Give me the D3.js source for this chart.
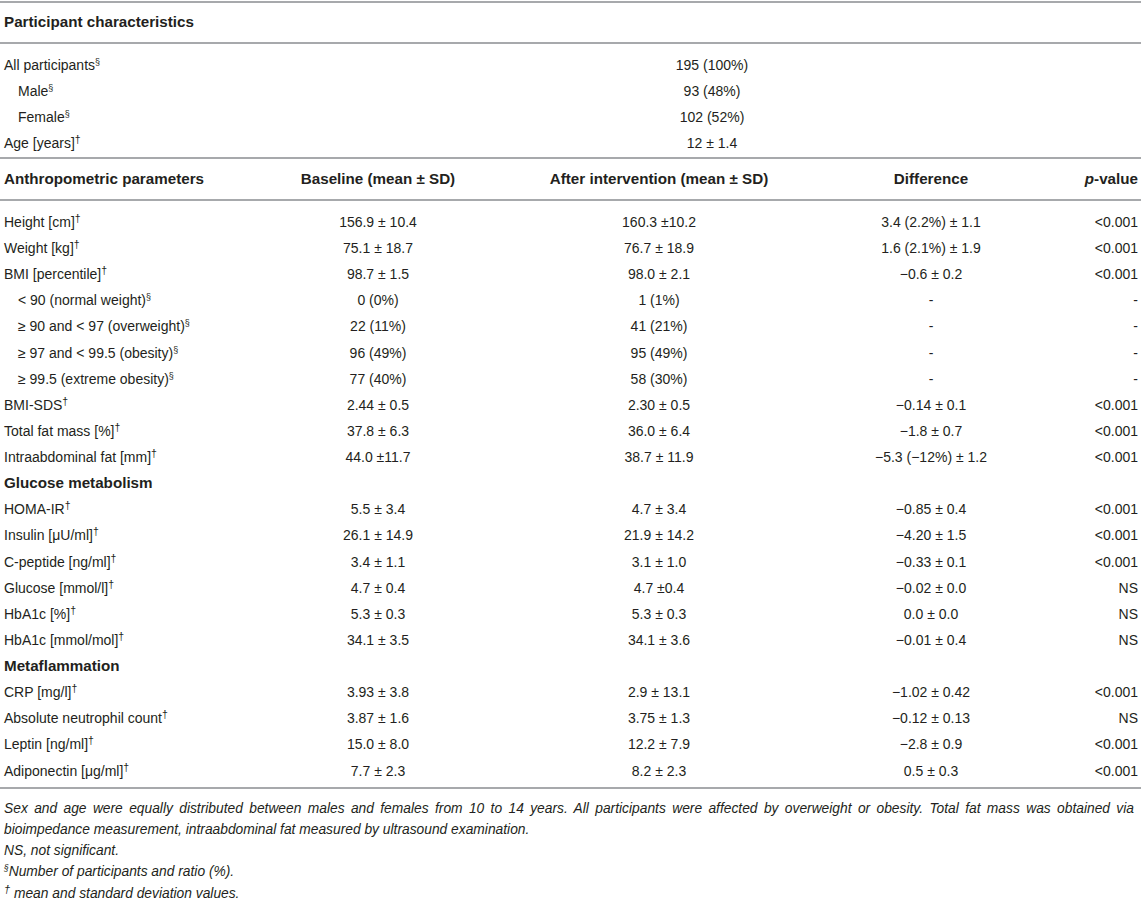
<!DOCTYPE html>
<html><head><meta charset="utf-8">
<script src="https://cdn.jsdelivr.net/npm/d3@7/dist/d3.min.js"></script>
<style>
html,body{margin:0;padding:0;background:#fff;}
svg{display:block;font-family:"Liberation Sans",Arial,Helvetica,sans-serif;}
</style></head>
<body>
<script>
// ---- data ----
const tableTitle = "Participant characteristics";
const participantLabels = ["All participants", "Male", "Female", "Age [years]"];
const participantSups = ["§", "§", "§", "†"];
const participantIndent = [0, 1, 1, 0];
const participantValues = ["195 (100%)", "93 (48%)", "102 (52%)", "12 ± 1.4"];

const columnHeaders = ["Anthropometric parameters", "Baseline (mean ± SD)", "After intervention (mean ± SD)", "Difference", "p-value"];

const rowLabels = ["Height [cm]", "Weight [kg]", "BMI [percentile]", "< 90 (normal weight)", "≥ 90 and < 97 (overweight)", "≥ 97 and < 99.5 (obesity)", "≥ 99.5 (extreme obesity)", "BMI-SDS", "Total fat mass [%]", "Intraabdominal fat [mm]",
  "Glucose metabolism", "HOMA-IR", "Insulin [μU/ml]", "C-peptide [ng/ml]", "Glucose [mmol/l]", "HbA1c [%]", "HbA1c [mmol/mol]",
  "Metaflammation", "CRP [mg/l]", "Absolute neutrophil count", "Leptin [ng/ml]", "Adiponectin [μg/ml]"];
const rowSups = ["†","†","†","§","§","§","§","†","†","†", "", "†","†","†","†","†","†", "", "†","†","†","†"];
const rowIndent = [0,0,0,1,1,1,1,0,0,0, 0, 0,0,0,0,0,0, 0, 0,0,0,0];
const sectionRows = ["Glucose metabolism", "Metaflammation"];
const baselineValues = ["156.9 ± 10.4","75.1 ± 18.7","98.7 ± 1.5","0 (0%)","22 (11%)","96 (49%)","77 (40%)","2.44 ± 0.5","37.8 ± 6.3","44.0 ±11.7",
  "", "5.5 ± 3.4","26.1 ± 14.9","3.4 ± 1.1","4.7 ± 0.4","5.3 ± 0.3","34.1 ± 3.5",
  "", "3.93 ± 3.8","3.87 ± 1.6","15.0 ± 8.0","7.7 ± 2.3"];
const afterValues = ["160.3 ±10.2","76.7 ± 18.9","98.0 ± 2.1","1 (1%)","41 (21%)","95 (49%)","58 (30%)","2.30 ± 0.5","36.0 ± 6.4","38.7 ± 11.9",
  "", "4.7 ± 3.4","21.9 ± 14.2","3.1 ± 1.0","4.7 ±0.4","5.3 ± 0.3","34.1 ± 3.6",
  "", "2.9 ± 13.1","3.75 ± 1.3","12.2 ± 7.9","8.2 ± 2.3"];
const differenceValues = ["3.4 (2.2%) ± 1.1","1.6 (2.1%) ± 1.9","−0.6 ± 0.2","-","-","-","-","−0.14 ± 0.1","−1.8 ± 0.7","−5.3 (−12%) ± 1.2",
  "", "−0.85 ± 0.4","−4.20 ± 1.5","−0.33 ± 0.1","−0.02 ± 0.0","0.0 ± 0.0","−0.01 ± 0.4",
  "", "−1.02 ± 0.42","−0.12 ± 0.13","−2.8 ± 0.9","0.5 ± 0.3"];
const pValues = ["<0.001","<0.001","<0.001","-","-","-","-","<0.001","<0.001","<0.001",
  "", "<0.001","<0.001","<0.001","NS","NS","NS",
  "", "<0.001","NS","<0.001","<0.001"];

const footnoteTexts = [
  "Sex and age were equally distributed between males and females from 10 to 14 years. All participants were affected by overweight or obesity. Total fat mass was obtained via",
  "bioimpedance measurement, intraabdominal fat measured by ultrasound examination.",
  "NS, not significant.",
  "Number of participants and ratio (%).",
  " mean and standard deviation values."
];
const footnoteSups = ["", "", "", "§", "†"];
const footnoteJustify = [true, false, false, false, false];

// ---- layout ----
const W = 1141, H = 902;
const textColor = "#231f20", ruleColor = "#a7a9ac";
const fs = 14, fsBold = 15.2, fsFoot = 13.8;

const svg = d3.select("body").append("svg").attr("width", W).attr("height", H);

const xCol = d3.scaleOrdinal().domain([0,1,2,3,4]).range([4, 378, 659, 931, 1138]);
const anchorCol = ["start","middle","middle","middle","end"];
const xPartValue = 712;
const indentPx = 14;

const yPart = d3.scalePoint().domain(d3.range(participantLabels.length)).range([65, 143]);
const yRow = d3.scalePoint().domain(d3.range(rowLabels.length)).range([222, 770.5]);
const yFoot = d3.scalePoint().domain(d3.range(footnoteTexts.length)).range([808, 893]);

function rule(y){
  svg.append("line").attr("x1",0).attr("x2",W).attr("y1",y).attr("y2",y)
    .attr("stroke",ruleColor).attr("stroke-width",2);
}
function label(g, x, y, txt, sup, opts={}){
  const t = g.append("text").attr("x",x).attr("y",y+5).attr("fill",textColor)
    .attr("font-size",opts.size||fs).attr("text-anchor",opts.anchor||"start")
    .attr("font-weight",opts.bold?"bold":"normal");
  t.append("tspan").text(txt);
  if (sup) t.append("tspan").attr("dy",-5).attr("font-size",sup==="†"?10.5:9).text(sup);
  return t;
}

rule(2); rule(43); rule(158); rule(200); rule(788);

const g = svg.append("g");
label(g, xCol(0), 22, tableTitle, "", {bold:true, size:fsBold});

participantLabels.forEach((d,i)=>{
  label(g, xCol(0) + participantIndent[i]*indentPx, yPart(i), d, participantSups[i]);
  label(g, xPartValue, yPart(i), participantValues[i], "", {anchor:"middle"});
});

// header
columnHeaders.forEach((d,i)=>{
  const t = g.append("text").attr("x",xCol(i)).attr("y",179+5).attr("fill",textColor)
    .attr("font-size",fsBold).attr("font-weight","bold").attr("text-anchor",anchorCol[i]);
  if (d === "p-value"){
    t.append("tspan").attr("font-style","italic").text("p");
    t.append("tspan").text("-value");
  } else t.text(d);
});

rowLabels.forEach((d,i)=>{
  const y = yRow(i);
  const isSection = sectionRows.includes(d);
  label(g, xCol(0) + rowIndent[i]*indentPx, y, d, rowSups[i], {bold:isSection, size: isSection?fsBold:fs});
  [baselineValues, afterValues, differenceValues, pValues].forEach((arr,j)=>{
    if (arr[i]) label(g, xCol(j+1), y, arr[i], "", {anchor: anchorCol[j+1]});
  });
});

footnoteTexts.forEach((txt,i)=>{
  const sup = footnoteSups[i];
  const t = g.append("text").attr("x",xCol(0)).attr("y",yFoot(i)+4.5).attr("fill",textColor)
    .attr("font-size",fsFoot).attr("font-style","italic");
  if (sup) t.append("tspan").attr("font-size", sup==="†"?11:8.5).attr("dy",-5).text(sup);
  t.append("tspan").attr("dy", sup?5:0).text(txt);
  if (footnoteJustify[i]){
    const natural = t.node().getComputedTextLength();
    const spaces = (txt.match(/ /g)||[]).length;
    const target = 1134 - xCol(0);
    if (spaces && natural < target) t.attr("word-spacing", (target - natural)/spaces);
  }
});
</script>
</body></html>
